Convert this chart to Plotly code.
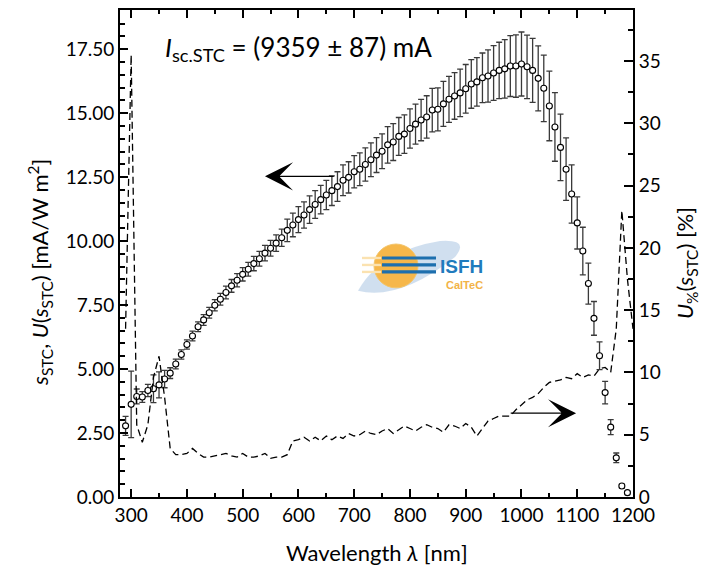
import plotly.graph_objects as go

# ---------------- data ----------------
wl = list(range(290, 1200, 10))  # 290 .. 1190 nm
s_stc = [2.78, 3.62, 3.93, 3.91, 4.16, 4.23, 4.38, 4.61, 4.84, 5.20,
         5.57, 5.96, 6.29, 6.65, 6.92, 7.20, 7.49, 7.73, 7.99, 8.25,
         8.47, 8.70, 8.90, 9.12, 9.31, 9.53, 9.72, 9.92, 10.13, 10.42,
         10.63, 10.84, 11.02, 11.23, 11.43, 11.62, 11.80, 11.97, 12.13, 12.38,
         12.49, 12.71, 12.81, 12.99, 13.18, 13.36, 13.51, 13.76, 13.87, 14.09,
         14.18, 14.40, 14.57, 14.73, 14.85, 15.12, 15.15, 15.36, 15.54, 15.67,
         15.79, 15.95, 16.14, 16.22, 16.38, 16.45, 16.57, 16.67, 16.73, 16.84,
         16.84, 16.92, 16.81, 16.67, 16.36, 15.97, 15.28, 14.46, 13.66, 12.81,
         11.84, 10.71, 9.61, 8.34, 6.98, 5.52, 4.08, 2.73, 1.53, 0.43, 0.17]
u_stc = [0.37, 1.30, 0.29, 0.21, 0.24, 0.54, 0.51, 0.34, 0.21, 0.19,
         0.18, 0.18, 0.19, 0.19, 0.21, 0.21, 0.22, 0.23, 0.25, 0.25,
         0.26, 0.26, 0.27, 0.28, 0.29, 0.30, 0.31, 0.32, 0.34, 0.44,
         0.46, 0.51, 0.51, 0.54, 0.54, 0.56, 0.57, 0.58, 0.58, 0.60,
         0.61, 0.63, 0.64, 0.65, 0.66, 0.68, 0.68, 0.71, 0.72, 0.74,
         0.75, 0.77, 0.78, 0.81, 0.83, 0.85, 0.84, 0.88, 0.90, 0.91,
         0.93, 0.95, 0.95, 0.95, 0.97, 1.02, 1.07, 1.10, 1.14, 1.19,
         1.22, 1.25, 1.24, 1.25, 1.27, 1.30, 1.36, 1.34, 1.30, 1.22,
         1.14, 1.02, 0.93, 0.80, 0.66, 0.54, 0.44, 0.29, 0.19, 0.07, 0.05]

wl_rel = list(range(290, 1210, 10))  # 290 .. 1200 nm
u_rel = [13.5, 35.5, 5.8, 4.4, 5.8, 9.6, 11.3, 8.0, 3.9, 3.4,
         3.4, 3.5, 3.9, 3.5, 3.2, 3.2, 3.3, 3.4, 3.5, 3.3,
         3.2, 3.5, 3.2, 3.2, 3.3, 3.5, 3.1, 3.2, 3.2, 3.4,
         4.5, 4.6, 4.8, 4.5, 4.8, 4.5, 4.9, 4.6, 4.9, 4.7,
         5.1, 4.9, 5.0, 5.3, 5.1, 5.0, 5.3, 5.5, 5.1, 5.4,
         5.7, 5.5, 5.3, 5.6, 5.8, 5.6, 5.5, 5.2, 5.8, 5.7,
         5.5, 5.9, 5.6, 4.9, 5.5, 6.1, 6.3, 6.5, 6.5, 6.5,
         7.0, 7.4, 7.8, 8.0, 8.3, 8.8, 9.2, 9.3, 9.4, 9.6,
         9.5, 9.9, 9.6, 9.8, 9.7, 10.3, 10.4, 10.0, 13.5, 23.0,
         17.5, 13.5]

x_ticks = [300, 400, 500, 600, 700, 800, 900, 1000, 1100, 1200]
title_text = "<i>I</i><sub>sc.STC</sub> = (9359 ± 87) mA"

# ---------------- layout helpers (page pixels; body has 8px margin) ----------------
OFF = 8
W, H = 716 - OFF, 571 - OFF
PLOT_L, PLOT_R, PLOT_T, PLOT_B = 120, 633, 8, 497
L = PLOT_L - OFF
T = PLOT_T - OFF
R = 716 - PLOT_R
B = 571 - PLOT_B
PW, PH = PLOT_R - PLOT_L, PLOT_B - PLOT_T


def px(xp):
    return (xp - PLOT_L) / PW


def py(yp):
    return (PLOT_B - yp) / PH


FONT = "Lato"

fig = go.Figure()

fig.add_trace(go.Scatter(
    x=wl_rel, y=u_rel, yaxis="y2", mode="lines",
    line=dict(color="black", width=1.3, dash="7px,4px"),
    showlegend=False, hoverinfo="skip"))

fig.add_trace(go.Scatter(
    x=wl, y=s_stc, mode="markers",
    marker=dict(symbol="circle", size=6, color="white",
                line=dict(color="black", width=1.1)),
    error_y=dict(type="data", array=u_stc, visible=True,
                 color="#3a3a3a", thickness=1.3, width=3),
    showlegend=False))

axis_common = dict(
    showline=True, linecolor="black", linewidth=1.8,
    ticks="inside", tickcolor="black", tickwidth=1.5,
    showgrid=False, zeroline=False,
    tickfont=dict(family=FONT, size=19, color="black"),
)

fig.update_layout(
    width=W, height=H,
    margin=dict(l=L, r=R, t=T, b=B, pad=0),
    paper_bgcolor="white", plot_bgcolor="white",
    font=dict(family=FONT, color="black"),
    xaxis=dict(range=[280, 1200], tickvals=x_ticks, ticklen=8,
               mirror="ticks",
               minor=dict(dtick=50, tick0=0, ticklen=4, ticks="inside",
                          tickcolor="black", tickwidth=1.5),
               **axis_common),
    yaxis=dict(range=[0, 19.03], dtick=2.5, tick0=0, tickformat=".2f",
               ticklen=8,
               minor=dict(dtick=0.5, tick0=0, ticklen=5, ticks="inside",
                          tickcolor="black", tickwidth=1.5),
               **axis_common),
    yaxis2=dict(range=[0, 39.1], dtick=5, tick0=0, overlaying="y",
                side="right", ticklen=9,
                minor=dict(dtick=2.5, tick0=0, ticklen=5, ticks="inside",
                           tickcolor="black", tickwidth=1.5),
                **axis_common),
)

ann = []
ann.append(dict(text=title_text, xref="paper", yref="paper",
                x=px(163), y=py(47), xanchor="left", yanchor="middle",
                showarrow=False, font=dict(family=FONT, size=26)))
ann.append(dict(text="Wavelength <i>λ</i> [nm]", xref="paper", yref="paper",
                x=0.5, y=py(553), xanchor="center", yanchor="middle",
                showarrow=False, font=dict(family=FONT, size=22)))
ann.append(dict(text="<i>s</i><sub>STC</sub>, <i>U</i>(<i>s</i><sub>STC</sub>) [mA/W m<sup>2</sup>]",
                xref="paper", yref="paper", x=px(40), y=py(272),
                xanchor="center", yanchor="middle", textangle=-90,
                showarrow=False, font=dict(family=FONT, size=22)))
ann.append(dict(text="<i>U</i><sub>%</sub>(<i>s</i><sub>STC</sub>) [%]",
                xref="paper", yref="paper", x=px(686), y=py(262),
                xanchor="center", yanchor="middle", textangle=-90,
                showarrow=False, font=dict(family=FONT, size=22)))
# arrows
ann.append(dict(x=540, y=12.53, ax=666, ay=12.53, xref="x", yref="y",
                axref="x", ayref="y", text="", showarrow=True,
                arrowhead=3, arrowsize=3.6, arrowwidth=1.3, arrowcolor="black"))
ann.append(dict(x=1098, y=6.73, ax=978, ay=6.73, xref="x", yref="y2",
                axref="x", ayref="y2", text="", showarrow=True,
                arrowhead=3, arrowsize=3.6, arrowwidth=1.3, arrowcolor="black"))
# logo texts
ann.append(dict(text="<b>ISFH</b>", xref="paper", yref="paper",
                x=px(438), y=py(266), xanchor="left", yanchor="middle",
                showarrow=False, font=dict(family="Liberation Sans", size=19, color="#1f7bbd")))
ann.append(dict(text="<b>CalTeC</b>", xref="paper", yref="paper",
                x=px(444), y=py(284), xanchor="left", yanchor="middle",
                showarrow=False, font=dict(family="Liberation Sans", size=11, color="#f2b347")))

shapes = []
# pale blue brush stroke
shapes.append(dict(type="path", xref="paper", yref="paper",
                   path=("M {},{} Q {},{} {},{} Q {},{} {},{} Q {},{} {},{} Z").format(
                       px(358), py(290), px(380), py(250), px(440), py(240),
                       px(470), py(238), px(455), py(256),
                       px(400), py(300), px(358), py(290)),
                   fillcolor="rgba(150,185,220,0.45)", line=dict(width=0), layer="below"))
# orange sun
shapes.append(dict(type="circle", xref="paper", yref="paper",
                   x0=px(374), x1=px(418), y0=py(287), y1=py(243),
                   fillcolor="#f6b74a", line=dict(color="#f3c46a", width=1), layer="below"))
for yy in (257, 264, 271):
    shapes.append(dict(type="rect", xref="paper", yref="paper",
                       x0=px(382), x1=px(436), y0=py(yy + 1.6), y1=py(yy - 1.6),
                       fillcolor="#1d6fae", line=dict(width=0), layer="below"))
    shapes.append(dict(type="rect", xref="paper", yref="paper",
                       x0=px(362), x1=px(381), y0=py(yy + 1.2), y1=py(yy - 1.2),
                       fillcolor="#fbe2b0", line=dict(width=0), layer="below"))
fig.update_layout(annotations=ann, shapes=shapes)

fig.write_html("out.html")
